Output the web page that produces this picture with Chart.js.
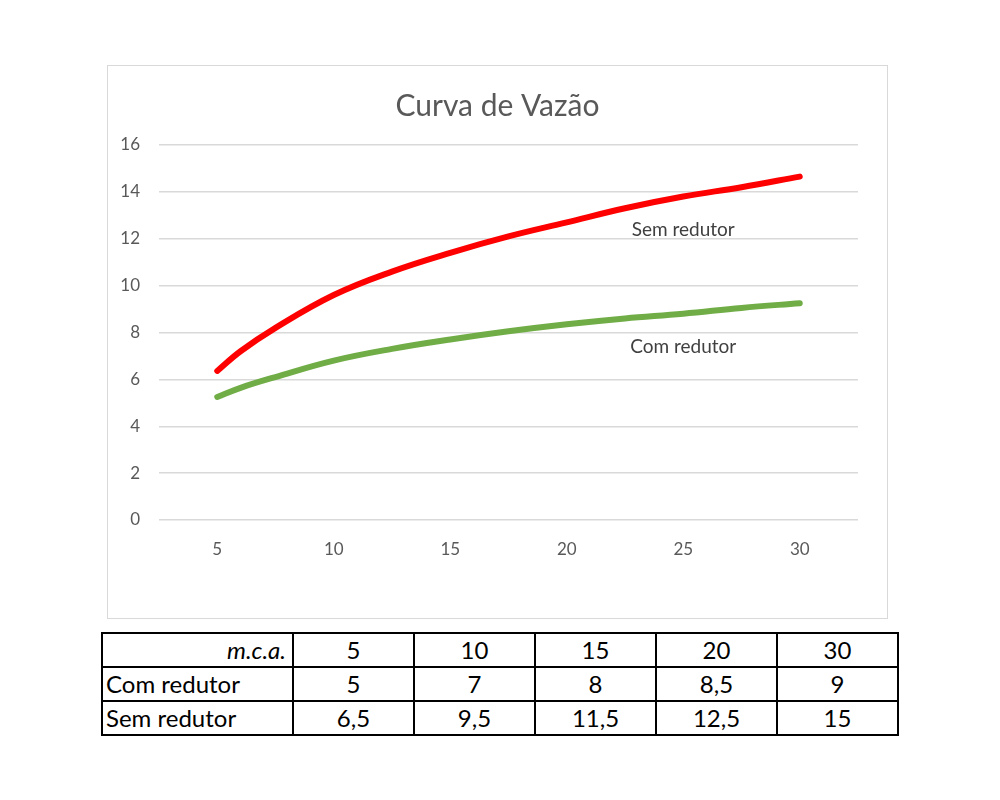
<!DOCTYPE html>
<html>
<head>
<meta charset="utf-8">
<script src="https://cdn.jsdelivr.net/npm/chart.js@4"></script>
<style>
  body { margin: 0; background: #fff; font-family: Lato, "Noto Sans", sans-serif; }
  #box { position: absolute; left: 107px; top: 65px; width: 779px; height: 552px; border: 1px solid #d9d9d9; }
  #tbl { position: absolute; left: 101px; top: 632px; width: 798px; border-collapse: collapse; table-layout: fixed; font-size: 24px; color: #000; }
  #tbl td { border: 2px solid #000; height: 34px; padding: 0 3px; text-align: center; box-sizing: border-box; line-height: 30px; }
  #tbl td.first { text-align: left; }
  #tbl td.head { text-align: right; font-style: italic; padding-right: 6px; }
</style>
</head>
<body>
<div id="box"><canvas id="c"></canvas></div>
<table id="tbl">
  <colgroup><col style="width:191px"><col><col><col><col><col></colgroup>
</table>
<script>
// pontos
const xVals = [5, 6, 7.5, 10, 12.5, 15, 17.5, 20, 22.5, 25, 27.5, 30];
const semRedutor = [6.36, 7.2, 8.2, 9.6, 10.6, 11.4, 12.1, 12.7, 13.3, 13.8, 14.2, 14.65];
const comRedutor = [5.25, 5.64, 6.1, 6.8, 7.3, 7.7, 8.05, 8.35, 8.6, 8.8, 9.05, 9.25];
const xTicks = [5, 10, 15, 20, 25, 30];

// tabela
const mca = [5, 10, 15, 20, 30];
const tabCom = [5, 7, 8, 8.5, 9];
const tabSem = [6.5, 9.5, 11.5, 12.5, 15];

// rótulos das curvas
const labels = [
  { text: 'Sem redutor', x: 25, y: 12.4 },
  { text: 'Com redutor', x: 25, y: 7.4 }
];

const FONT = 'Lato, "Noto Sans", sans-serif';
Chart.defaults.font.family = FONT;

const fmt = v => v.toLocaleString('pt-BR');
const tbl = document.getElementById('tbl');
const rows = [['m.c.a.', mca], ['Com redutor', tabCom], ['Sem redutor', tabSem]];
rows.forEach((r, i) => {
  const tr = document.createElement('tr');
  const th = document.createElement('td');
  th.textContent = r[0];
  th.className = i === 0 ? 'first head' : 'first';
  tr.appendChild(th);
  r[1].forEach(v => {
    const td = document.createElement('td');
    td.textContent = fmt(v);
    tr.appendChild(td);
  });
  tbl.appendChild(tr);
});

// título centrado na caixa toda + rótulos das curvas
const textos = {
  id: 'textos',
  afterDatasetsDraw(chart) {
    const { ctx, scales: { x, y } } = chart;
    ctx.save();
    ctx.textAlign = 'center';
    ctx.textBaseline = 'middle';
    ctx.font = '30px ' + FONT;
    ctx.fillStyle = '#595959';
    ctx.fillText('Curva de Vazão', chart.width / 2, 40);
    ctx.font = '19px ' + FONT;
    ctx.fillStyle = '#404040';
    labels.forEach(l => ctx.fillText(l.text, x.getPixelForValue(l.x), y.getPixelForValue(l.y)));
    ctx.restore();
  }
};

new Chart(document.getElementById('c').getContext('2d'), {
  type: 'line',
  data: {
    datasets: [
      {
        label: 'Sem redutor',
        data: xVals.map((v, i) => ({ x: v, y: semRedutor[i] })),
        borderColor: '#ff0000',
        borderWidth: 6,
        borderCapStyle: 'round',
        borderJoinStyle: 'round',
        pointRadius: 0,
        tension: 0.4
      },
      {
        label: 'Com redutor',
        data: xVals.map((v, i) => ({ x: v, y: comRedutor[i] })),
        borderColor: '#70ad47',
        borderWidth: 6,
        borderCapStyle: 'round',
        borderJoinStyle: 'round',
        pointRadius: 0,
        tension: 0.4
      }
    ]
  },
  options: {
    responsive: true,
    maintainAspectRatio: false,
    animation: false,
    layout: { padding: { left: 0, right: 29, top: 79, bottom: 0 } },
    plugins: {
      legend: { display: false },
      tooltip: { enabled: false }
    },
    scales: {
      x: {
        type: 'linear',
        min: 2.5,
        max: 32.5,
        afterBuildTicks: s => { s.ticks = xTicks.map(v => ({ value: v })); },
        afterFit: s => { s.height = 98; },
        grid: { display: false },
        border: { display: false },
        ticks: { color: '#595959', font: { size: 17 }, padding: 11 }
      },
      y: {
        min: 0,
        max: 16,
        afterFit: s => { s.width = 51; },
        grid: { color: '#d9d9d9', lineWidth: 1.5, drawTicks: false },
        border: { display: false },
        ticks: { stepSize: 2, color: '#595959', font: { size: 17 }, padding: 19 }
      }
    }
  },
  plugins: [textos]
});
</script>
</body>
</html>
